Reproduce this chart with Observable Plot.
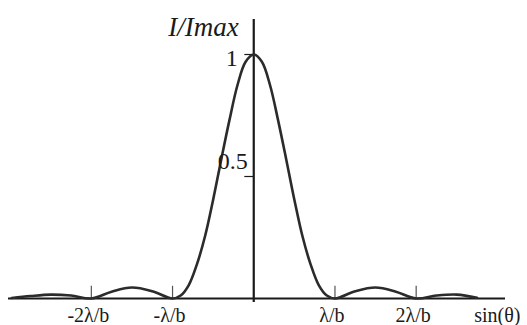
<!DOCTYPE html>
<html>
<head>
<meta charset="utf-8">
<script src="https://cdn.jsdelivr.net/npm/d3@7"></script>
<script src="https://cdn.jsdelivr.net/npm/@observablehq/plot@0.6"></script>
<style>
  html, body { margin: 0; padding: 0; background: #fff; }
  #chart svg { display: block; }
</style>
</head>
<body>
<div id="chart"></div>
<script>
// sin(theta) in units of lambda/b
const sinTheta = [-2.98, -2.75, -2.5, -2.25, -2.0, -1.75, -1.5, -1.25, -1.0, -0.9, -0.8, -0.7, -0.6, -0.5, -0.4, -0.3, -0.2, -0.1, 0.0,
                  0.1, 0.2, 0.3, 0.4, 0.5, 0.6, 0.7, 0.8, 0.9, 1.0, 1.25, 1.5, 1.75, 2.0, 2.25, 2.5, 2.75];
// relative intensity I/Imax
const intensity = [0.002, 0.01, 0.016, 0.012, 0.0, 0.028, 0.045, 0.03, 0.0, 0.012, 0.055, 0.14, 0.255, 0.405, 0.57, 0.73, 0.875, 0.97, 1.0,
                   0.97, 0.875, 0.73, 0.57, 0.405, 0.255, 0.14, 0.055, 0.012, 0.0, 0.03, 0.045, 0.028, 0.0, 0.012, 0.016, 0.003];
// axis ticks
const xTickValues = [-2, -1, 1, 2];
const xTickLabels = ["-2λ/b", "-λ/b", "λ/b", "2λ/b"];
const yTickValues = [1, 0.5];
const yTickLabels = ["1", "0.5"];
const xAxisTitle = "sin(θ)";
const yAxisTitle = "I/Imax";

try {
const curve = sinTheta.map((x, i) => ({x, y: intensity[i]}));
const xTicks = xTickValues.map((v, i) => ({v, label: xTickLabels[i]}));
const yTicks = yTickValues.map((v, i) => ({v, label: yTickLabels[i]}));

const ink = "#1a1a1a";
const serif = "'Liberation Serif', 'DejaVu Serif', serif";

const chart = Plot.plot({
  width: 527,
  height: 325,
  margin: 0,
  style: {background: "#fff", fontFamily: serif},
  x: {domain: [-3.02, 3.10], range: [8, 505], axis: null},
  y: {domain: [0, 1], range: [298, 54], axis: null},
  marks: [
    Plot.ruleY([0], {x1: -3.02, x2: 3.10, stroke: ink, strokeWidth: 2.2}),
    Plot.ruleX([0], {y1: -0.016, y2: 1.143, stroke: ink, strokeWidth: 2.2}),
    Plot.ruleX(xTicks, {x: "v", y1: 0, y2: 0.05, stroke: "#555", strokeWidth: 1.2}),
    Plot.ruleY(yTicks, {y: "v", x1: -0.11, x2: 0, stroke: ink, strokeWidth: 1.2}),
    Plot.line(curve, {x: "x", y: "y", curve: "catmull-rom", stroke: "#2b2b2b", strokeWidth: 2.6}),
    Plot.text(xTicks, {x: "v", y: 0, text: "label", dx: -3, dy: 17, fontSize: 20, fill: ink}),
    Plot.text([xAxisTitle], {x: 3.0, y: 0, text: d => d, dy: 17, fontSize: 20, fill: ink}),
    Plot.text([yTicks[0]], {x: 0, y: "v", text: "label", dx: -16, dy: 4, textAnchor: "end", fontSize: 24, fill: ink}),
    Plot.text([yTicks[1]], {x: 0, y: "v", text: "label", dx: -6, dy: -15, textAnchor: "end", fontSize: 24, fill: ink}),
    Plot.text([yAxisTitle], {x: 0, y: 1.1, text: d => d, dx: -15, dy: -3, textAnchor: "end", fontSize: 27, fontStyle: "italic", fill: ink})
  ]
});
document.getElementById("chart").append(chart);
} catch (e) {
  document.getElementById("chart").textContent = "ERROR: " + e.message;
}
</script>
</body>
</html>
